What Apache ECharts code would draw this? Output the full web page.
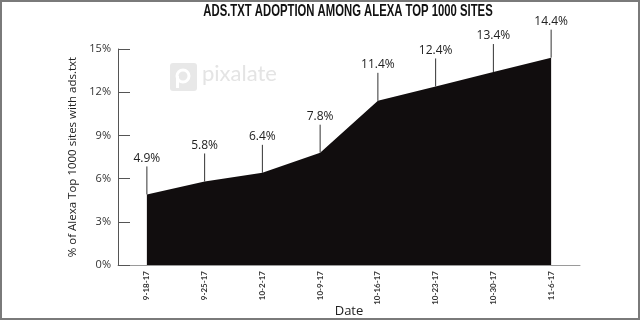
<!DOCTYPE html>
<html><head><meta charset="utf-8">
<script src="https://cdn.jsdelivr.net/npm/echarts@6/dist/echarts.min.js"></script>
<style>html,body{margin:0;padding:0;background:#fff}#w{position:relative;width:640px;height:320px}#c{width:640px;height:320px}#b{position:absolute;left:0;top:0;width:640px;height:320px;box-sizing:border-box;border:2px solid #7a7a7a;pointer-events:none}</style>
</head><body><div id="w"><div id="c"></div><div id="b"></div></div>
<script>
const title = 'ADS.TXT ADOPTION AMONG ALEXA TOP 1000 SITES';
const dates = ['9-18-17','9-25-17','10-2-17','10-9-17','10-16-17','10-23-17','10-30-17','11-6-17'];
const adoption = [4.9, 5.8, 6.4, 7.8, 11.4, 12.4, 13.4, 14.4];
const yTicks = [0, 3, 6, 9, 12, 15];

const chart = echarts.init(document.getElementById('c'), null, {renderer:'canvas'});
const font = 'Lato, "Open Sans", sans-serif';
chart.setOption({
  animation:false,
  grid:{left:118,right:60,top:49,bottom:55,outerBoundsMode:'none',containLabel:false},
  xAxis:{type:'category',data:dates,boundaryGap:true,
    name:'Date',nameLocation:'middle',nameGap:40,nameMoveOverlap:false,
    nameTextStyle:{fontFamily:'"Open Sans", sans-serif',fontSize:13,color:'#222'},
    axisLine:{lineStyle:{color:'#9a9a9a',width:1}},
    axisTick:{show:false},
    axisLabel:{rotate:90,fontSize:8,color:'#333',fontFamily:font,fontWeight:'bold',margin:6}},
  yAxis:{type:'value',min:yTicks[0],max:yTicks[yTicks.length-1],interval:3,
    name:'% of Alexa Top 1000 sites with ads.txt',nameLocation:'middle',nameGap:39,nameMoveOverlap:false,
    nameTextStyle:{fontFamily:'"Open Sans", sans-serif',fontSize:11.5,color:'#222'},
    axisLine:{show:true,lineStyle:{color:'#555',width:1}},
    axisTick:{show:true,inside:true,length:12,lineStyle:{color:'#555'}},
    splitLine:{show:false},
    axisLabel:{formatter:'{value}%',fontSize:11,color:'#333',fontFamily:'"Open Sans", sans-serif',margin:7}},
  graphic:[
    {type:'text',x:348,y:3,scaleX:0.665,originX:0,
      style:{text:title,font:'bold 17px "Liberation Sans", Arial, sans-serif',fill:'#111',textAlign:'center'},z:10},
    {type:'rect',left:170,top:63,shape:{width:27,height:28,r:3},style:{fill:'#e8e8e8'},z:0},
    {type:'circle',shape:{cx:183,cy:76,r:6},style:{fill:'none',stroke:'#fff',lineWidth:3},z:0},
    {type:'rect',left:176,top:76,shape:{width:3,height:12},style:{fill:'#fff'},z:0},
    {type:'text',left:202,top:63,style:{text:'pixalate',font:'22px Lato, sans-serif',fill:'#e4e4e4'},z:0}
  ],
  series:[
    {type:'line',data:adoption,symbol:'none',lineStyle:{width:0},
      areaStyle:{color:'#110d0e',opacity:1},z:2},
    {type:'custom',data:adoption.map((v,i)=>[i,v]),z:3,
      renderItem:function(params,api){
        const p = api.coord([api.value(0),api.value(1)]);
        return {type:'group',children:[
          {type:'line',shape:{x1:p[0],y1:p[1],x2:p[0],y2:p[1]-28},style:{stroke:'#333',lineWidth:1}},
          {type:'text',style:{text:api.value(1).toFixed(1)+'%',x:p[0],y:p[1]-36,textAlign:'center',textVerticalAlign:'middle',
            font:'12px "Open Sans", sans-serif',fill:'#222'}}
        ]};
      }}
  ]
});
</script></body></html>
